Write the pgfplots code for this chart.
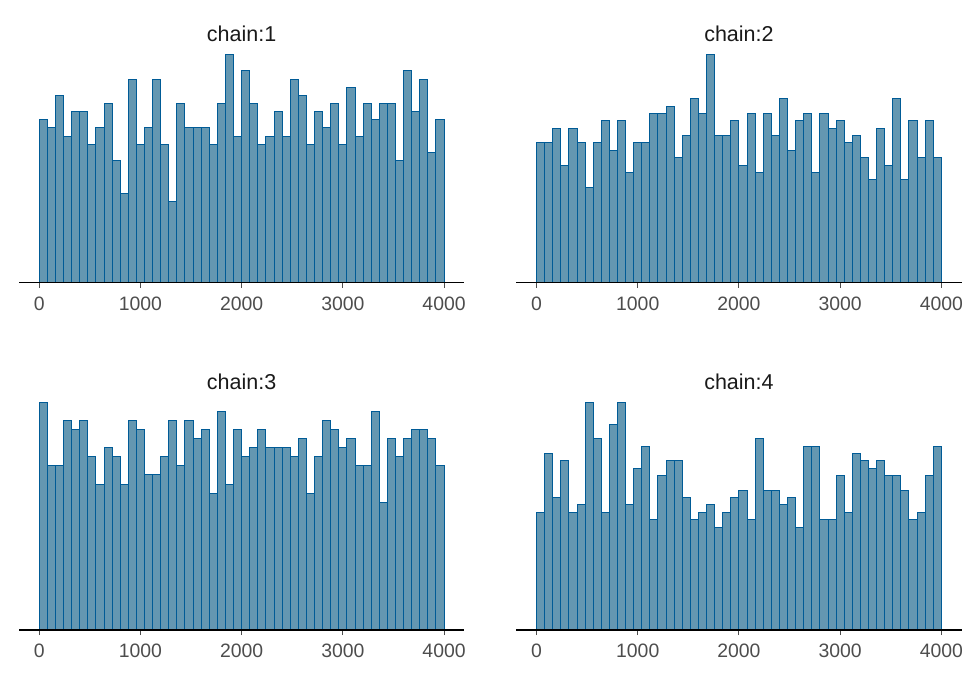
\documentclass[border=0pt]{standalone}
\usepackage{pgfplots}
\pgfplotsset{compat=1.18}
\usepackage{pgfplotstable}
\usepackage{fontspec}
\setmainfont{Liberation Sans}

\definecolor{barfill}{HTML}{6497B1}
\definecolor{baredge}{HTML}{005B96}
\definecolor{ticktext}{HTML}{4D4D4D}
\definecolor{striptext}{HTML}{1A1A1A}

% Rank histograms: 50 bins of width 80 over ranks 0--4000 (left edges),
% the final row closes the last interval.
\pgfplotstableread{
x n
0 20
80 19
160 23
240 18
320 21
400 21
480 17
560 19
640 22
720 15
800 11
880 25
960 17
1040 19
1120 25
1200 17
1280 10
1360 22
1440 19
1520 19
1600 19
1680 17
1760 22
1840 28
1920 18
2000 26
2080 22
2160 17
2240 18
2320 21
2400 18
2480 25
2560 23
2640 17
2720 21
2800 19
2880 22
2960 17
3040 24
3120 18
3200 22
3280 20
3360 22
3440 22
3520 15
3600 26
3680 21
3760 25
3840 16
3920 20
4000 20
}\chainone

\pgfplotstableread{
x n
0 19
80 19
160 21
240 16
320 21
400 19
480 13
560 19
640 22
720 18
800 22
880 15
960 19
1040 19
1120 23
1200 23
1280 24
1360 17
1440 20
1520 25
1600 23
1680 31
1760 20
1840 20
1920 22
2000 16
2080 23
2160 15
2240 23
2320 20
2400 25
2480 18
2560 22
2640 23
2720 15
2800 23
2880 21
2960 22
3040 19
3120 20
3200 17
3280 14
3360 21
3440 16
3520 25
3600 14
3680 22
3760 17
3840 22
3920 17
4000 17
}\chaintwo

\pgfplotstableread{
x n
0 25
80 18
160 18
240 23
320 22
400 23
480 19
560 16
640 20
720 19
800 16
880 23
960 22
1040 17
1120 17
1200 19
1280 23
1360 18
1440 23
1520 21
1600 22
1680 15
1760 24
1840 16
1920 22
2000 19
2080 20
2160 22
2240 20
2320 20
2400 20
2480 19
2560 21
2640 15
2720 19
2800 23
2880 22
2960 20
3040 21
3120 18
3200 18
3280 24
3360 14
3440 21
3520 19
3600 21
3680 22
3760 22
3840 21
3920 18
4000 18
}\chainthree

\pgfplotstableread{
x n
0 16
80 24
160 18
240 23
320 16
400 17
480 31
560 26
640 16
720 28
800 31
880 17
960 22
1040 25
1120 15
1200 21
1280 23
1360 23
1440 18
1520 15
1600 16
1680 17
1760 14
1840 16
1920 18
2000 19
2080 15
2160 26
2240 19
2320 19
2400 17
2480 18
2560 14
2640 25
2720 25
2800 15
2880 15
2960 21
3040 16
3120 24
3200 23
3280 22
3360 23
3440 21
3520 21
3600 19
3680 15
3760 16
3840 21
3920 25
4000 25
}\chainfour

\pgfplotsset{
  rankpanel/.style={
    scale only axis,
    width=222.65bp, height=114bp,
    xmin=-200, xmax=4200, ymin=0,
    clip=false,
    axis on top,
    axis x line*=bottom,
    axis y line=none,
    axis line style={black, line width=0.8bp},
    xtick={0,1000,2000,3000,4000},
    tick align=outside,
    major tick length=2.5bp,
    x tick style={color=ticktext, line width=0.5bp},
    xticklabel style={font=\fontsize{9.7bp}{11bp}\selectfont, text=ticktext,
      yshift=-1bp},
    /pgf/number format/1000 sep={},
    /pgf/number format/assume math mode=true,
    title style={at={(0.5,1)}, anchor=base, yshift=0.5bp,
      font=\fontsize{10.75bp}{13bp}\selectfont, text=striptext},
  },
  rankbars/.style={ybar interval, fill=barfill, draw=baredge, line width=0.5bp},
}

\begin{document}
\begin{tikzpicture}
\path[use as bounding box] (0,0) rectangle (487.5bp,337.5bp);

\begin{axis}[rankpanel, at={(9.5bp,196.15bp)}, anchor=south west,
  ymax=28, title={chain:1}]
  \addplot[rankbars] table[x=x, y=n] {\chainone};
\end{axis}

\begin{axis}[rankpanel, at={(258.15bp,196.15bp)}, anchor=south west,
  ymax=31, title={chain:2}]
  \addplot[rankbars] table[x=x, y=n] {\chaintwo};
\end{axis}

\begin{axis}[rankpanel, at={(9.5bp,22.5bp)}, anchor=south west,
  ymax=25, title={chain:3}]
  \addplot[rankbars] table[x=x, y=n] {\chainthree};
\end{axis}

\begin{axis}[rankpanel, at={(258.15bp,22.5bp)}, anchor=south west,
  ymax=31, title={chain:4}]
  \addplot[rankbars] table[x=x, y=n] {\chainfour};
\end{axis}
\end{tikzpicture}
\end{document}
